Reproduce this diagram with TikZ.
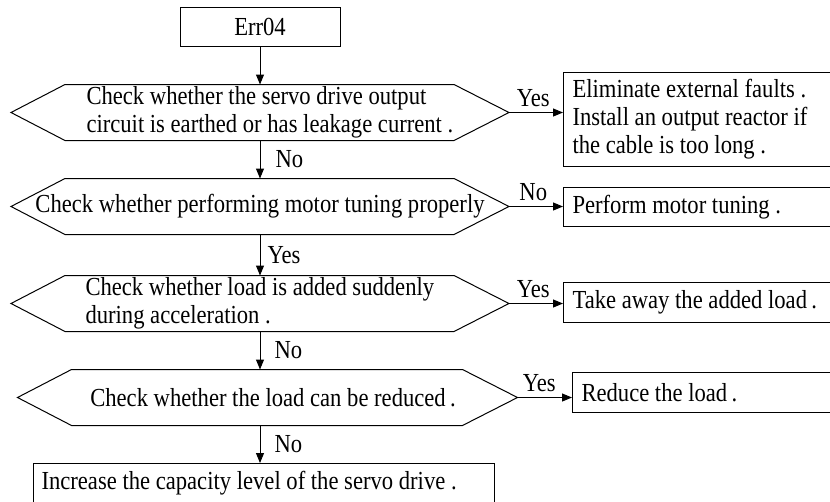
\documentclass[tikz,border=0pt]{standalone}
\usepackage{fontspec}
\setmainfont[FakeStretch=0.87]{Liberation Serif}
\usetikzlibrary{arrows.meta}

\begin{document}
\begin{tikzpicture}[x=1pt, y=-1pt, line width=1pt,
    every node/.style={font=\fontsize{26}{28}\selectfont, inner sep=0pt},
    hexa/.style={rectangle, minimum width=497pt, minimum height=55pt},
    rbox/.style={draw, rectangle, anchor=north west, text width=252pt, inner xsep=9pt, align=flush left},
    flow/.style={-{Triangle[length=10pt, width=8pt]}}]
    \useasboundingbox (0,0) rectangle (830,501);

    % 起始框
    \node[draw, minimum width=160pt, minimum height=39pt] (err) at (260,26.5) {Err04};

    % 判断框
    \node[hexa] (q1) at (260,112.5) {};
    \node[hexa] (q2) at (260,206.5) {};
    \node[hexa] (q3) at (260,303.5) {};
    \node[hexa, minimum width=499pt] (q4) at (267.5,397.5) {};
    \foreach \q in {q1,q2,q3,q4}
        \draw (\q.west) -- ([xshift=54pt]\q.north west) -- ([xshift=-55pt]\q.north east) -- (\q.east)
            -- ([xshift=-55pt]\q.south east) -- ([xshift=54pt]\q.south west) -- cycle;

    \node[anchor=west, align=left] (t1) at (86,112.5) {Check whether the servo drive output\\circuit is earthed or has leakage current .};
    \node (t2) at (q2) {Check whether performing motor tuning properly};
    \node[anchor=west, align=left] (t3) at (85,303.5) {Check whether load is added suddenly\\during acceleration .};
    \node (t4) at (273,397.5) {Check whether the load can be reduced\,.};

    % 处理框
    \node[rbox, minimum height=94pt] (b1) at (563,72) {Eliminate external faults .\\Install an output reactor if\\the cable is too long .};
    \node[rbox, minimum height=39pt] (b2) at (563,187) {Perform motor tuning .};
    \node[rbox, minimum height=40pt] (b3) at (563,282) {Take away the added load\,.};
    \node[rbox, minimum height=40pt] (b4) at (572,372) {Reduce the load\,.};
    \node[draw, anchor=north west, minimum height=40pt, text width=445pt, inner xsep=8pt, align=flush left] (fin) at (33,463)
        {Increase the capacity level of the servo drive .};

    % 竖向箭头
    \draw[flow] (err) -- (q1);
    \draw[flow] (q1) -- node[right=15pt] {No} (q2);
    \draw[flow] (q2) -- node[right=7pt] {Yes} (q3);
    \draw[flow] (q3.south) -- node[right=14pt] {No} (q3.south |- q4.north);
    \draw[flow] (q4.south -| q3.south) -- node[right=14pt] {No} (fin.north -| q3.south);

    % 横向箭头
    \draw[flow] (q1.east) -- node[pos=0.45, above=5pt] {Yes} (q1.east -| b1.west);
    \draw[flow] (q2.east) -- node[pos=0.45, above=5pt] {No} (q2.east -| b2.west);
    \draw[flow] (q3.east) -- node[pos=0.45, above=5pt] {Yes} (q3.east -| b3.west);
    \draw[flow] (q4.east) -- node[pos=0.4, above=5pt] {Yes} (q4.east -| b4.west);
\end{tikzpicture}
\end{document}
